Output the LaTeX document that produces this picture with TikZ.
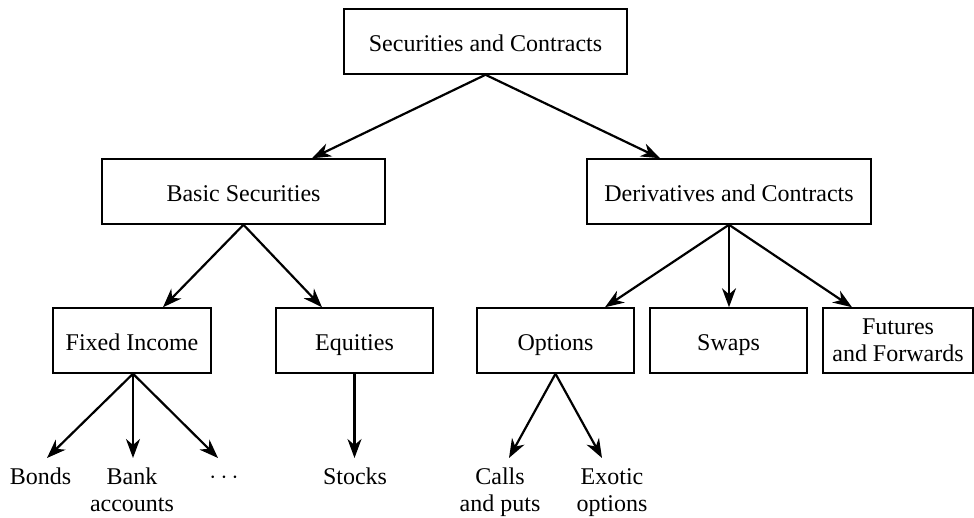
\documentclass[tikz,border=0pt]{standalone}
\usepackage{fontspec}
\setmainfont{Liberation Serif}
\usetikzlibrary{arrows.meta}
\begin{document}
\begin{tikzpicture}[x=1pt,y=-1pt,
  box/.style={draw, line width=1.5pt, minimum height=65pt, inner sep=0pt, align=center, text height=22pt, text depth=3pt, font=\fontsize{24}{27}\selectfont},
  box2/.style={draw, line width=1.5pt, minimum height=65pt, inner sep=0pt, align=center, font=\fontsize{24}{27}\selectfont},
  leaf/.style={anchor=north, inner sep=0pt, align=center, font=\fontsize{24}{27}\selectfont},
  arr/.style={line width=2.2pt, -{Stealth[length=19pt,width=14pt,inset=6pt]}}]
\fill[white] (0,0) rectangle (974,517);
\useasboundingbox (0,0) rectangle (974,517);

% boxes
\node[box, minimum width=283pt] (top)   at (485.5,41.5)  {Securities and Contracts};
\node[box, minimum width=283pt] (basic) at (243.5,191.5) {Basic Securities};
\node[box, minimum width=284pt] (deriv) at (729,191.5)   {Derivatives and Contracts};
\node[box, minimum width=158pt] (fixed) at (132,340.5)   {Fixed Income};
\node[box, minimum width=157pt] (equ)   at (354.5,340.5) {Equities};
\node[box, minimum width=157pt] (opt)   at (555.5,340.5) {Options};
\node[box, minimum width=157pt] (swaps) at (728.5,340.5) {Swaps};
\node[box2, minimum width=150pt] (fut)  at (898,340.5)   {Futures\\and Forwards};

% leaves
\node[leaf] (bonds)  at (40.5,468) {Bonds};
\node[leaf] (bank)   at (132,468)  {Bank\\accounts};
\node[leaf, anchor=base] (dots) at (224,483) {$\cdots$};
\node[leaf] (stocks) at (355,468)  {Stocks};
\node[leaf] (calls)  at (500,468)  {Calls\\and puts};
\node[leaf] (exotic) at (612,468)  {Exotic\\options};

% connectors
\draw[arr] (top.south) -- ([xshift=68.5pt]basic.north);
\draw[arr] (top.south) -- ([xshift=-69pt]deriv.north);

\draw[arr] (basic.south) -- ([xshift=31pt]fixed.north);
\draw[arr] (basic.south) -- ([xshift=-32.5pt]equ.north);

\draw[arr] (deriv.south) -- ([xshift=49.5pt]opt.north);
\draw[arr] (deriv.south) -- ([xshift=0.5pt]swaps.north);
\draw[arr] (deriv.south) -- ([xshift=-46pt]fut.north);

\draw[arr] ([xshift=1pt]fixed.south) -- ([xshift=6.5pt,yshift=10pt]bonds.north);
\draw[arr] ([xshift=1pt]fixed.south) -- ([xshift=1pt,yshift=10pt]bank.north);
\draw[arr] ([xshift=1pt]fixed.south) -- ([xshift=-6pt,yshift=25pt]dots.base);

\draw[arr] (equ.south) -- ([xshift=-0.5pt,yshift=10pt]stocks.north);

\draw[arr] (opt.south) -- ([xshift=9pt,yshift=10pt]calls.north);
\draw[arr] (opt.south) -- ([xshift=-10pt,yshift=10pt]exotic.north);
\end{tikzpicture}
\end{document}
